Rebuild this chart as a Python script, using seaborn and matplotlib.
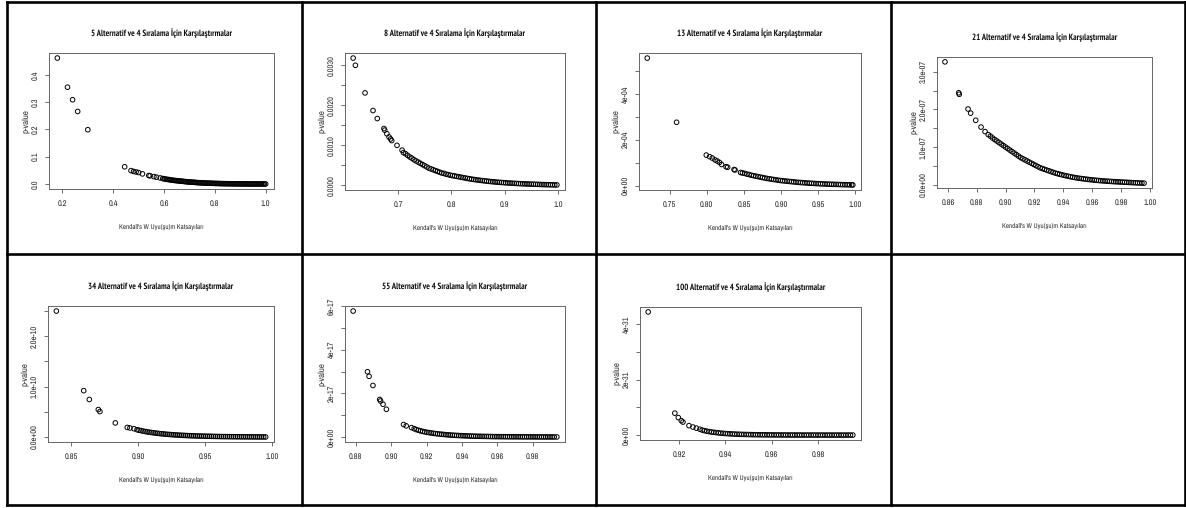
import matplotlib
matplotlib.use("Agg")
import matplotlib.pyplot as plt
from matplotlib import font_manager
from matplotlib.lines import Line2D
from matplotlib.ticker import FixedLocator, FixedFormatter
import seaborn as sns
import pandas as pd

# ---------------------------------------------------------------- data
alternatives = [5, 8, 13, 21, 34, 55, 100]

w5 = [0.18, 0.22, 0.24, 0.26, 0.30, 0.445, 0.47, 0.48, 0.49, 0.50, 0.515, 0.54, 0.545,
      0.56, 0.57, 0.585, 0.595,
      0.600, 0.605, 0.610, 0.615, 0.620, 0.625, 0.630, 0.635, 0.640, 0.645, 0.650, 0.655,
      0.660, 0.665, 0.670, 0.675, 0.680, 0.685, 0.690, 0.695, 0.700, 0.705, 0.710, 0.715,
      0.720, 0.725, 0.730, 0.735, 0.740, 0.745, 0.750, 0.755, 0.760, 0.765, 0.770, 0.775,
      0.780, 0.785, 0.790, 0.795, 0.800, 0.805, 0.810, 0.815, 0.820, 0.825, 0.830, 0.835,
      0.840, 0.845, 0.850, 0.855, 0.860, 0.865, 0.870, 0.875, 0.880, 0.885, 0.890, 0.895,
      0.900, 0.905, 0.910, 0.915, 0.920, 0.925, 0.930, 0.935, 0.940, 0.945, 0.950, 0.955,
      0.960, 0.965, 0.970, 0.975, 0.980, 0.985, 0.990, 0.995, 1.000]
p5 = [0.462, 0.355, 0.309, 0.266, 0.199, 0.063, 0.049, 0.046, 0.044, 0.042, 0.037, 0.031, 0.030,
      0.027, 0.025, 0.022, 0.020,
      0.019, 0.018, 0.017, 0.0165, 0.016, 0.015, 0.014, 0.0135, 0.013, 0.0125, 0.012, 0.0115,
      0.011, 0.0105, 0.010, 0.0095, 0.009, 0.0085, 0.008, 0.0075, 0.007, 0.0068, 0.0065, 0.0062,
      0.006, 0.0055, 0.005, 0.0048, 0.0045, 0.0042, 0.004, 0.0037, 0.0035, 0.0032, 0.003, 0.0028,
      0.0027, 0.0025, 0.0024, 0.0022, 0.002, 0.0019, 0.0018, 0.0016, 0.0015, 0.0014, 0.0013, 0.0012,
      0.0011, 0.00105, 0.001, 0.0009, 0.0008, 0.00075, 0.0007, 0.00065, 0.0006, 0.00055, 0.0005, 0.00045,
      0.0004, 0.00035, 0.0003, 0.00028, 0.00025, 0.00022, 0.0002, 0.00018, 0.00015, 0.00012, 0.0001, 0.00009,
      0.00008, 0.00006, 0.00005, 0.00004, 0.00003, 0.000025, 0.00002, 0.00001, 0.0]

w8 = [0.6157, 0.6199, 0.638, 0.653, 0.661, 0.6735, 0.675, 0.679, 0.683, 0.686, 0.688,
      0.698, 0.7075,
      0.710, 0.714, 0.718, 0.722, 0.726, 0.730, 0.734, 0.738, 0.742, 0.746, 0.750, 0.754,
      0.758, 0.762, 0.766, 0.770, 0.774, 0.778, 0.782, 0.786, 0.790, 0.794, 0.798, 0.802,
      0.806, 0.810, 0.814, 0.818, 0.822, 0.826, 0.830, 0.834, 0.838, 0.842, 0.846, 0.850,
      0.854, 0.858, 0.862, 0.866, 0.870, 0.874, 0.878, 0.882, 0.886, 0.890, 0.894, 0.898,
      0.902, 0.906, 0.910, 0.914, 0.918, 0.922, 0.926, 0.930, 0.934, 0.938, 0.942, 0.946,
      0.950, 0.954, 0.958, 0.962, 0.966, 0.970, 0.974, 0.978, 0.982, 0.986, 0.990, 0.994,
      0.998]
p8 = [3.18, 3.00, 2.31, 1.87, 1.67, 1.42, 1.38, 1.29, 1.21, 1.16, 1.12,
      1.00, 0.88,
      0.82, 0.79, 0.75, 0.71, 0.68, 0.64, 0.61, 0.58, 0.55, 0.52, 0.49, 0.46,
      0.43, 0.41, 0.39, 0.37, 0.35, 0.33, 0.31, 0.30, 0.28, 0.27, 0.255, 0.245,
      0.235, 0.225, 0.215, 0.205, 0.195, 0.185, 0.175, 0.165, 0.157, 0.149, 0.141, 0.134,
      0.127, 0.120, 0.114, 0.108, 0.102, 0.096, 0.091, 0.086, 0.081, 0.077, 0.073, 0.069,
      0.065, 0.061, 0.058, 0.055, 0.052, 0.049, 0.046, 0.043, 0.041, 0.038, 0.036, 0.034,
      0.032, 0.030, 0.028, 0.026, 0.024, 0.022, 0.020, 0.019, 0.017, 0.016, 0.014, 0.013,
      0.012]                                  # x 1e-3

w13 = [0.7198, 0.7593, 0.7993, 0.8038, 0.8074, 0.811, 0.814, 0.817, 0.8199, 0.826,
       0.828, 0.8367, 0.838,
       0.8455, 0.848, 0.851, 0.854, 0.857, 0.860, 0.863, 0.866, 0.869, 0.872, 0.875,
       0.878, 0.881, 0.884, 0.887, 0.890, 0.893, 0.896, 0.899, 0.902, 0.905, 0.908,
       0.911, 0.914, 0.917, 0.920, 0.923, 0.926, 0.929, 0.932, 0.935, 0.938, 0.941,
       0.944, 0.947, 0.950, 0.953, 0.956, 0.959, 0.962, 0.965, 0.968, 0.971, 0.974,
       0.977, 0.980, 0.983, 0.986, 0.989, 0.992, 0.995, 0.9965]
p13 = [5.56, 2.76, 1.33, 1.26, 1.20, 1.12, 1.07, 1.01, 0.92, 0.82,
       0.80, 0.70, 0.68,
       0.57, 0.55, 0.53, 0.50, 0.48, 0.45, 0.43, 0.41, 0.39, 0.37, 0.35,
       0.33, 0.31, 0.295, 0.28, 0.265, 0.25, 0.235, 0.22, 0.21, 0.20, 0.19,
       0.18, 0.17, 0.16, 0.15, 0.14, 0.133, 0.126, 0.119, 0.112, 0.106, 0.10,
       0.094, 0.088, 0.083, 0.078, 0.073, 0.069, 0.065, 0.061, 0.057, 0.053, 0.050,
       0.047, 0.044, 0.041, 0.038, 0.035, 0.032, 0.030, 0.028]      # x 1e-4

w21 = [0.8580, 0.8675, 0.8679, 0.8740, 0.8758, 0.8793, 0.8830, 0.8858,
       0.8880, 0.8895, 0.8910, 0.8925, 0.8940, 0.8955, 0.8970, 0.8985, 0.9000, 0.9015,
       0.9030, 0.9045, 0.9060, 0.9075, 0.9090, 0.9105, 0.9120, 0.9135, 0.9150, 0.9165,
       0.9180, 0.9195, 0.9210, 0.9225, 0.9240, 0.9255, 0.9270, 0.9285, 0.9300, 0.9315,
       0.9330, 0.9345, 0.9360, 0.9375, 0.9390, 0.9405, 0.9420, 0.9435, 0.9450, 0.9465,
       0.9480, 0.9495, 0.9510, 0.9525, 0.9540, 0.9555, 0.9570, 0.9585, 0.9600, 0.9615,
       0.9630, 0.9645, 0.9660, 0.9675, 0.9690, 0.9705, 0.9720, 0.9735, 0.9750, 0.9765,
       0.9780, 0.9795, 0.9810, 0.9825, 0.9840, 0.9855, 0.9870, 0.9885, 0.9900, 0.9915,
       0.9930, 0.9945, 0.9960]
p21 = [3.26, 2.44, 2.40, 2.01, 1.90, 1.71, 1.53, 1.41,
       1.33, 1.29, 1.24, 1.20, 1.16, 1.12, 1.08, 1.04, 1.00, 0.96,
       0.92, 0.88, 0.84, 0.80, 0.76, 0.72, 0.69, 0.66, 0.63, 0.60,
       0.57, 0.54, 0.51, 0.48, 0.45, 0.43, 0.41, 0.39, 0.37, 0.35,
       0.33, 0.31, 0.295, 0.28, 0.265, 0.25, 0.237, 0.225, 0.213, 0.202,
       0.192, 0.182, 0.173, 0.165, 0.157, 0.150, 0.143, 0.136, 0.130, 0.124,
       0.118, 0.113, 0.108, 0.103, 0.099, 0.095, 0.091, 0.087, 0.083, 0.080,
       0.077, 0.074, 0.071, 0.068, 0.065, 0.062, 0.059, 0.056, 0.053, 0.050,
       0.047, 0.045, 0.043]                   # x 1e-7

w34 = [0.8388, 0.8592, 0.8634, 0.8701, 0.8713, 0.8828, 0.8917, 0.8937, 0.8967,
       0.8990, 0.9005, 0.9020, 0.9035, 0.9050, 0.9065, 0.9080, 0.9095, 0.9110, 0.9125,
       0.9140, 0.9155, 0.9170, 0.9185, 0.9200, 0.9215, 0.9230, 0.9245, 0.9260, 0.9275,
       0.9290, 0.9305, 0.9320, 0.9335, 0.9350, 0.9365, 0.9380, 0.9395, 0.9410, 0.9425,
       0.9440, 0.9455, 0.9470, 0.9485, 0.9500, 0.9515, 0.9530, 0.9545, 0.9560, 0.9575,
       0.9590, 0.9605, 0.9620, 0.9635, 0.9650, 0.9665, 0.9680, 0.9695, 0.9710, 0.9725,
       0.9740, 0.9755, 0.9770, 0.9785, 0.9800, 0.9815, 0.9830, 0.9845, 0.9860, 0.9875,
       0.9890, 0.9905, 0.9920, 0.9935, 0.9950]
p34 = [2.50, 0.92, 0.745, 0.545, 0.505, 0.28, 0.19, 0.18, 0.165,
       0.145, 0.135, 0.127, 0.118, 0.110, 0.103, 0.097, 0.091, 0.085, 0.080,
       0.075, 0.070, 0.066, 0.062, 0.058, 0.054, 0.051, 0.048, 0.045, 0.042,
       0.040, 0.037, 0.035, 0.033, 0.031, 0.029, 0.027, 0.025, 0.024, 0.022,
       0.021, 0.020, 0.019, 0.018, 0.017, 0.016, 0.015, 0.014, 0.013, 0.012,
       0.011, 0.010, 0.0095, 0.009, 0.0085, 0.008, 0.0075, 0.007, 0.0065, 0.006,
       0.0055, 0.005, 0.0047, 0.0044, 0.0041, 0.0038, 0.0035, 0.0032, 0.0029, 0.0026,
       0.0023, 0.002, 0.0018, 0.0016, 0.0014]  # x 1e-10

w55 = [0.8785, 0.8866, 0.8875, 0.8897, 0.8935, 0.8940, 0.8954, 0.8973, 0.9070, 0.9085,
       0.9115,
       0.9130, 0.9142, 0.9154, 0.9166, 0.9178, 0.9190, 0.9202, 0.9214, 0.9226, 0.9238,
       0.9250, 0.9262, 0.9274, 0.9286, 0.9298, 0.9310, 0.9322, 0.9334, 0.9346, 0.9358,
       0.9370, 0.9382, 0.9394, 0.9406, 0.9418, 0.9430, 0.9442, 0.9454, 0.9466, 0.9478,
       0.9490, 0.9502, 0.9514, 0.9526, 0.9538, 0.9550, 0.9562, 0.9574, 0.9586, 0.9598,
       0.9610, 0.9622, 0.9634, 0.9646, 0.9658, 0.9670, 0.9682, 0.9694, 0.9706, 0.9718,
       0.9730, 0.9742, 0.9754, 0.9766, 0.9778, 0.9790, 0.9802, 0.9814, 0.9826, 0.9838,
       0.9850, 0.9862, 0.9874, 0.9886, 0.9898, 0.9910, 0.9922, 0.9937]
p55 = [5.77, 2.99, 2.78, 2.36, 1.72, 1.65, 1.50, 1.27, 0.57, 0.51,
       0.43,
       0.38, 0.34, 0.31, 0.28, 0.255, 0.235, 0.215, 0.20, 0.185, 0.17,
       0.157, 0.145, 0.134, 0.124, 0.115, 0.106, 0.098, 0.091, 0.084, 0.078,
       0.072, 0.067, 0.062, 0.057, 0.053, 0.049, 0.045, 0.042, 0.039, 0.036,
       0.033, 0.031, 0.029, 0.027, 0.025, 0.023, 0.021, 0.019, 0.018, 0.017,
       0.016, 0.015, 0.014, 0.013, 0.012, 0.011, 0.010, 0.0095, 0.009, 0.0085,
       0.008, 0.0075, 0.007, 0.0065, 0.006, 0.0055, 0.005, 0.0046, 0.0042, 0.0038,
       0.0034, 0.003, 0.0027, 0.0024, 0.0021, 0.0018, 0.0016, 0.0014]   # x 1e-17

w100 = [0.9067, 0.9182, 0.9197, 0.9210, 0.9217, 0.9243, 0.9260, 0.9275, 0.9290,
        0.930, 0.931, 0.932, 0.933, 0.934, 0.935, 0.936, 0.937, 0.938, 0.939,
        0.940, 0.941, 0.942, 0.943, 0.944, 0.945, 0.946, 0.947, 0.948, 0.949,
        0.950, 0.951, 0.952, 0.953, 0.954, 0.955, 0.956, 0.957, 0.958, 0.959,
        0.960, 0.961, 0.962, 0.963, 0.964, 0.965, 0.966, 0.967, 0.968, 0.969,
        0.970, 0.971, 0.972, 0.973, 0.974, 0.975, 0.976, 0.977, 0.978, 0.979,
        0.980, 0.981, 0.982, 0.983, 0.984, 0.985, 0.986, 0.987, 0.988, 0.989,
        0.990, 0.991, 0.992, 0.993, 0.994, 0.995]
p100 = [4.44, 0.79, 0.63, 0.52, 0.47, 0.34, 0.29, 0.25, 0.21,
        0.18, 0.16, 0.14, 0.125, 0.11, 0.10, 0.09, 0.08, 0.07, 0.063,
        0.056, 0.05, 0.045, 0.04, 0.036, 0.032, 0.029, 0.026, 0.023, 0.021,
        0.019, 0.017, 0.015, 0.0135, 0.012, 0.011, 0.010, 0.009, 0.008, 0.0072,
        0.0065, 0.0058, 0.0052, 0.0047, 0.0042, 0.0038, 0.0034, 0.0031, 0.0028, 0.0025,
        0.0023, 0.0021, 0.0019, 0.0017, 0.0015, 0.0014, 0.0013, 0.0012, 0.0011, 0.001,
        0.0009, 0.0008, 0.0007, 0.00065, 0.0006, 0.00055, 0.0005, 0.00045, 0.0004, 0.00035,
        0.0003, 0.00025, 0.0002, 0.00018, 0.00015, 0.0001]       # x 1e-31

# p-value units (power of ten) for each series above
p_units = [1, 1e-3, 1e-4, 1e-7, 1e-10, 1e-17, 1e-31]

# axis ticks and their labels ("" = tick without label)
xticks = [
    [0.2, 0.4, 0.6, 0.8, 1.0],
    [0.6, 0.7, 0.8, 0.9, 1.0],
    [0.75, 0.80, 0.85, 0.90, 0.95, 1.00],
    [0.86, 0.88, 0.90, 0.92, 0.94, 0.96, 0.98, 1.00],
    [0.85, 0.90, 0.95, 1.00],
    [0.88, 0.90, 0.92, 0.94, 0.96, 0.98],
    [0.92, 0.94, 0.96, 0.98],
]
xtick_labels = [
    ["0.2", "0.4", "0.6", "0.8", "1.0"],
    ["0.6", "0.7", "0.8", "0.9", "1.0"],
    ["0.75", "0.80", "0.85", "0.90", "0.95", "1.00"],
    ["0.86", "0.88", "0.90", "0.92", "0.94", "0.96", "0.98", "1.00"],
    ["0.85", "0.90", "0.95", "1.00"],
    ["0.88", "0.90", "0.92", "0.94", "0.96", "0.98"],
    ["0.92", "0.94", "0.96", "0.98"],
]
yticks = [
    [0.0, 0.1, 0.2, 0.3, 0.4],
    [0.0, 0.0005, 0.0010, 0.0015, 0.0020, 0.0025, 0.0030],
    [0.0, 1e-4, 2e-4, 3e-4, 4e-4, 5e-4],
    [0.0, 0.5e-7, 1.0e-7, 1.5e-7, 2.0e-7, 2.5e-7, 3.0e-7],
    [0.0, 0.5e-10, 1.0e-10, 1.5e-10, 2.0e-10, 2.5e-10],
    [0.0, 1e-17, 2e-17, 3e-17, 4e-17, 5e-17, 6e-17],
    [0.0, 1e-31, 2e-31, 3e-31, 4e-31],
]
ytick_labels = [
    ["0.0", "0.1", "0.2", "0.3", "0.4"],
    ["0.0000", "", "0.0010", "", "0.0020", "", "0.0030"],
    ["0e+00", "", "2e-04", "", "4e-04", ""],
    ["0.0e+00", "", "1.0e-07", "", "2.0e-07", "", "3.0e-07"],
    ["0.0e+00", "", "1.0e-10", "", "2.0e-10", ""],
    ["0e+00", "", "2e-17", "", "4e-17", "", "6e-17"],
    ["0e+00", "", "2e-31", "", "4e-31"],
]

title_fmt = "{} Alternatif ve 4 Sıralama İçin Karşılaştırmalar"
x_label = "Kendall's W Uyu(şu)m Katsayıları"
y_label = "p-value"

# ---------------------------------------------------------------- fonts
sns.set_style("white")
plt.rcParams["text.hinting"] = "no_hinting"


def weight_of(entry):
    wt = entry.weight
    if isinstance(wt, str):
        wt = {"bold": 700, "heavy": 800, "black": 900, "semibold": 600,
              "demibold": 600}.get(wt.lower(), 400)
    return wt


font_entries = font_manager.fontManager.ttflist
names = {f.name for f in font_entries}
bold_names = {f.name for f in font_entries if weight_of(f) >= 700}
preferred = ["Liberation Sans Narrow", "Arial Narrow", "Archivo Narrow", "PT Sans Narrow",
             "Roboto Condensed", "Fira Sans Condensed", "IBM Plex Sans Condensed",
             "Encode Sans Condensed", "Asap Condensed", "Open Sans Condensed",
             "DejaVu Sans Condensed", "Liberation Sans"]
narrow = next((f for f in preferred if f in names), "DejaVu Sans")
narrow_bold = next((f for f in preferred if f in bold_names), narrow)
plt.rcParams["font.family"] = [narrow, "DejaVu Sans"]

# ---------------------------------------------------------------- figure
W, H = 1186, 508
fig = plt.figure(figsize=(W / 100, H / 100), dpi=100)
fig.patch.set_facecolor("white")

# plot boxes in pixels: (left, top, right, bottom)
boxes = [
    (49, 53, 274, 189), (345, 53, 565, 190), (639, 53, 861, 190), (937, 57, 1152, 188),
    (48, 306, 274, 442), (345, 306, 565, 442), (640, 307, 861, 440),
]

series = [(w5, p5), (w8, p8), (w13, p13), (w21, p21), (w34, p34), (w55, p55), (w100, p100)]


def rlim(vals):
    lo, hi = min(vals), max(vals)
    pad = 0.04 * (hi - lo)
    return lo - pad, hi + pad


for i, (n, (w, p), unit, box) in enumerate(zip(alternatives, series, p_units, boxes)):
    l, t, r, b = box
    ax = fig.add_axes([l / W, 1 - b / H, (r - l) / W, (b - t) / H])
    df = pd.DataFrame({"W": w, "p": [v * unit for v in p]})
    sns.scatterplot(data=df, x="W", y="p", ax=ax, marker="o", s=11,
                    facecolor="none", edgecolor="black", linewidth=0.7, legend=False)
    ax.set_xlim(*rlim(df["W"]))
    ax.set_ylim(*rlim(df["p"]))

    ax.xaxis.set_major_locator(FixedLocator(xticks[i]))
    ax.xaxis.set_major_formatter(FixedFormatter(xtick_labels[i]))
    ax.yaxis.set_major_locator(FixedLocator(yticks[i]))
    ax.yaxis.set_major_formatter(FixedFormatter(ytick_labels[i]))
    ax.tick_params(axis="both", which="major", direction="out", length=3, width=0.6,
                   color="#555555", labelsize=6.0, labelcolor="#2a2a2a",
                   bottom=True, left=True)
    ax.tick_params(axis="x", pad=5)
    ax.tick_params(axis="y", pad=4)
    for lab in ax.get_yticklabels():
        lab.set_rotation(90)
        lab.set_va("center")

    for s in ax.spines.values():
        s.set_visible(True)
        s.set_color("#666666")
        s.set_linewidth(0.7)

    ax.set_title(title_fmt.format(n), fontsize=6.2, fontweight="bold", pad=12,
                 color="#111111", family=[narrow_bold, "DejaVu Sans"])
    ax.set_xlabel(x_label, fontsize=5.0, color="#333333")
    ax.set_ylabel(y_label, fontsize=6.4, color="#333333")
    ax.xaxis.set_label_coords(0.5, -38 / (b - t))
    ax.yaxis.set_label_coords(-24 / (r - l), 0.5)
    ax.xaxis.label.set_va("center")
    ax.yaxis.label.set_va("center")

# table grid around the panels
lw = 1.9
def hline(y, x0, x1):
    fig.add_artist(Line2D([x0 / W, x1 / W], [1 - y / H, 1 - y / H], color="black", lw=lw,
                          solid_capstyle="projecting"))
def vline(x, y0, y1):
    fig.add_artist(Line2D([x / W, x / W], [1 - y0 / H, 1 - y1 / H], color="black", lw=lw,
                          solid_capstyle="projecting"))

hline(1.5, 7, 1185)
hline(254, 7, 1185)
hline(504.5, 7, 1185)
for xv in (7, 302, 596, 891, 1184.5):
    vline(xv, 1.5, 504.5)

fig.savefig("out.png", dpi=100, facecolor="white")
